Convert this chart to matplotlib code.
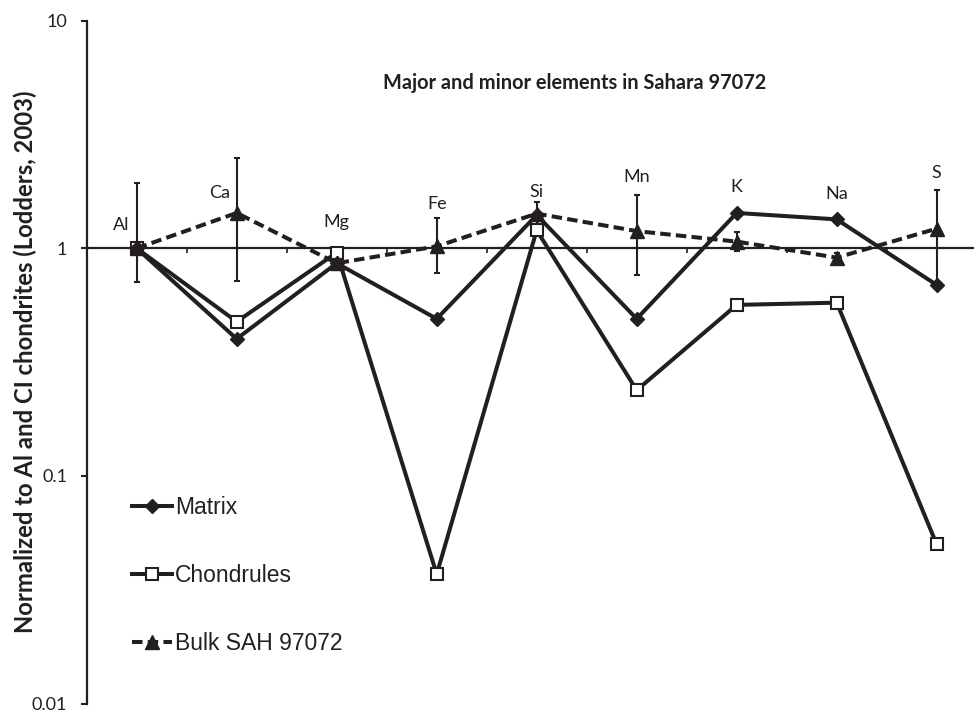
import matplotlib
matplotlib.use("Agg")
import matplotlib.pyplot as plt
from matplotlib.ticker import FixedLocator, FixedFormatter, NullLocator

elements = ['Al', 'Ca', 'Mg', 'Fe', 'Si', 'Mn', 'K', 'Na', 'S']
matrix = [1.0, 0.40, 0.86, 0.49, 1.40, 0.49, 1.43, 1.34, 0.69]
chondrules = [1.0, 0.476, 0.957, 0.037, 1.20, 0.238, 0.564, 0.577, 0.050]
bulk = [1.0, 1.43, 0.86, 1.02, 1.42, 1.19, 1.07, 0.91, 1.22]
bulk_lo = [0.71, 0.72, 0.80, 0.78, 1.28, 0.76, 0.97, 0.88, 0.71]
bulk_hi = [1.93, 2.49, 0.93, 1.36, 1.60, 1.71, 1.18, 0.95, 1.80]

y_ticks = [0.01, 0.1, 1, 10]
y_tick_labels = ['0.01', '0.1', '1', '10']

# where Excel put the element data labels (data units)
label_x = [-0.16, 0.83, 2.0, 3.0, 4.0, 5.0, 6.0, 7.0, 8.0]
label_y = [1.27, 1.75, 1.31, 1.57, 1.77, 2.06, 1.85, 1.73, 2.14]

CAL = 'Lato'
ARIAL = 'Liberation Sans'

fig = plt.figure(figsize=(9.74, 7.14), dpi=100)
ax = fig.add_axes([86.7 / 974, 1 - 703.5 / 714, 900 / 974, (703.5 - 20.7) / 714])

x = list(range(len(elements)))
lw = 2.9

ax.errorbar(x, bulk, yerr=[[b - lo for b, lo in zip(bulk, bulk_lo)],
                           [hi - b for b, hi in zip(bulk, bulk_hi)]],
            fmt='none', ecolor='#231f20', elinewidth=1.5, capsize=2.5, capthick=1.5, zorder=2)

ax.plot(x, chondrules, color='#231f20', lw=lw, marker='s', ms=9, mfc='white',
        mec='#231f20', mew=1.5, label='Chondrules', zorder=3)
ax.plot(x, matrix, color='#231f20', lw=lw, marker='D', ms=6.8, mfc='#231f20',
        mec='#231f20', label='Matrix', zorder=4)
ax.plot(x, bulk, color='#231f20', lw=lw, ls=(0, (2.6, 1.3)), marker='^', ms=10,
        mfc='#231f20', mec='#231f20', label='Bulk SAH 97072', zorder=5)

for lx, ly, name in zip(label_x, label_y, elements):
    ax.text(lx, ly, name, ha='center', va='center', fontsize=13, family=CAL, color='#231f20')

ax.set_yscale('log')
ax.set_ylim(0.01, 10)
ax.set_xlim(-0.5, 8.5)

ax.yaxis.set_major_locator(FixedLocator(y_ticks))
ax.yaxis.set_major_formatter(FixedFormatter(y_tick_labels))
ax.yaxis.set_minor_locator(NullLocator())
ax.tick_params(axis='y', direction='out', length=4.5, width=1.5, pad=9.5,
               labelsize=13, colors='#231f20')
for t in ax.get_yticklabels():
    t.set_family(CAL)

ax.xaxis.set_major_locator(FixedLocator([i + 0.5 for i in range(len(elements) - 1)]))
ax.xaxis.set_minor_locator(NullLocator())
ax.tick_params(axis='x', direction='out', length=3.5, width=1.2, labelbottom=False,
               colors='#231f20')

ax.spines['top'].set_visible(False)
ax.spines['right'].set_visible(False)
ax.spines['bottom'].set_position(('data', 1))
ax.spines['left'].set_linewidth(1.6)
ax.spines['bottom'].set_linewidth(1.6)
ax.spines['left'].set_color('#231f20')
ax.spines['bottom'].set_color('#231f20')

handles, labels = ax.get_legend_handles_labels()
order = [1, 0, 2]
leg = ax.legend([handles[i] for i in order], [labels[i] for i in order],
                loc='center left', bbox_to_anchor=(131.7 / 974, 1 - 575.3 / 714),
                bbox_transform=fig.transFigure, frameon=False, borderpad=0,
                borderaxespad=0, handlelength=1.74, handletextpad=0.15,
                labelspacing=1.97, numpoints=1,
                prop={'family': ARIAL, 'size': 16.5})
for t in leg.get_texts():
    t.set_color('#231f20')

fig.text(575 / 974, 1 - 83 / 714, 'Major and minor elements in Sahara 97072',
         ha='center', va='center', fontsize=14.4, fontweight='bold', family=CAL, color='#231f20')
fig.text(25 / 974, 1 - 361.5 / 714, 'Normalized to Al and CI chondrites (Lodders, 2003)',
         ha='center', va='center', rotation=90, fontsize=17.2, fontweight='bold',
         family=CAL, color='#231f20')

fig.savefig('out.png', dpi=100)
